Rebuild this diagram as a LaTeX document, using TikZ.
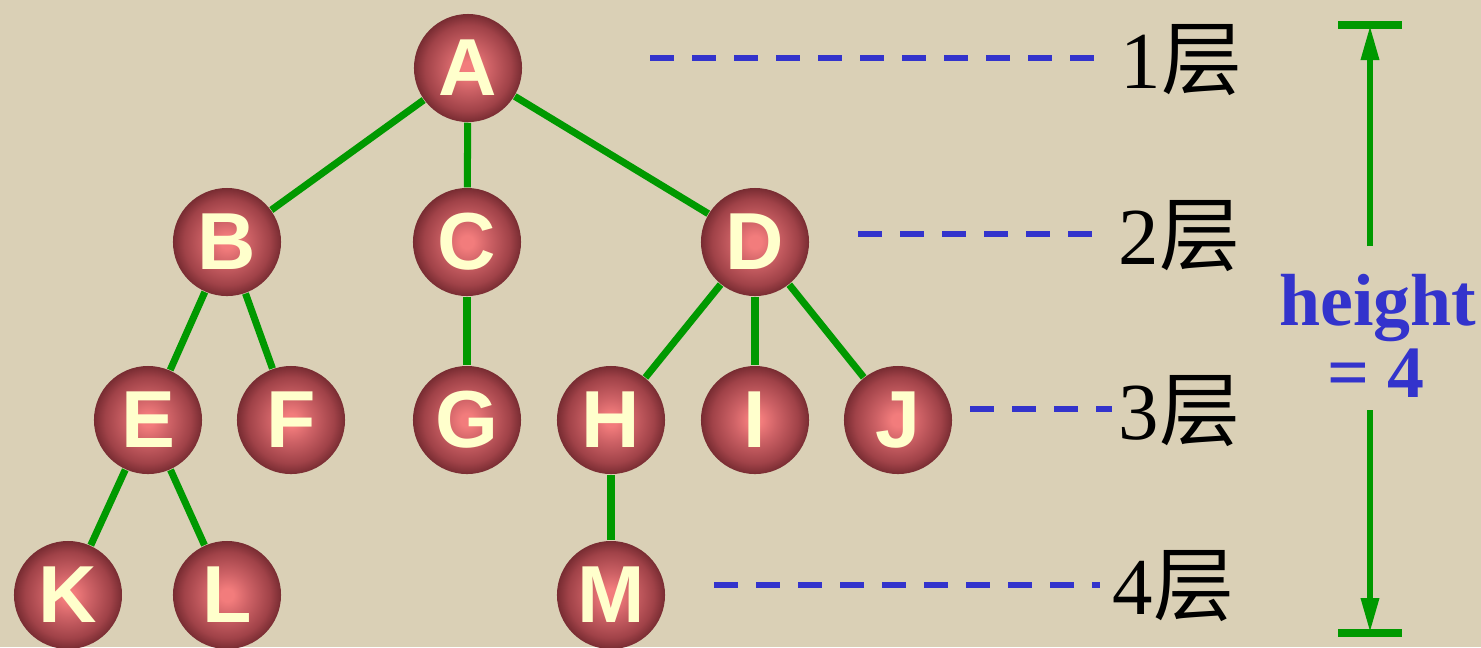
\documentclass[tikz,border=0pt]{standalone}
\usepackage{fontspec}
\setmainfont{Liberation Serif}
\newfontfamily\lsans{Liberation Sans}
\newfontfamily\cjk{Noto Sans CJK SC}
\usetikzlibrary{arrows.meta}
\definecolor{bg}{RGB}{218,208,182}
\definecolor{ballin}{RGB}{242,124,124}
\definecolor{ballin2}{RGB}{206,98,102}
\definecolor{ballmid}{RGB}{160,66,72}
\definecolor{ballout}{RGB}{120,44,50}
\definecolor{letter}{RGB}{255,255,204}
\definecolor{tgreen}{RGB}{0,153,0}
\definecolor{tblue}{RGB}{51,51,204}
\pgfdeclareradialshading{ballshade}{\pgfpoint{0bp}{0bp}}{color(0bp)=(ballin); color(3bp)=(ballin); color(10bp)=(ballin2); color(20bp)=(ballmid); color(25bp)=(ballout); color(50bp)=(ballout)}
\tikzset{
  ball/.style={circle, minimum size=1.08cm, inner sep=0pt, shading=ballshade,
    text=letter, font=\lsans\bfseries\fontsize{23}{23}\selectfont},
  edge/.style={draw=tgreen, line width=2pt},
  lvldash/.style={draw=tblue, line width=1.6pt, dash pattern=on 0.24cm off 0.18cm},
  lvl/.style={anchor=base west, inner sep=0pt, font=\fontsize{23}{23}\selectfont},
  htext/.style={anchor=base, inner sep=0pt, text=tblue, font=\bfseries\fontsize{21}{21}\selectfont},
  harrow/.style={draw=tgreen, line width=1.8pt, -{Triangle[length=0.35cm,width=0.17cm]}},
  hbar/.style={draw=tgreen, line width=2.3pt}
}
\begin{document}
\begin{tikzpicture}[x=0.01cm,y=-0.01cm]
\fill[bg] (0,0) rectangle (1481,647);
\useasboundingbox (0,0) rectangle (1481,647);
% nodes
\node[ball] (A) at (468,68) {A};
\node[ball] (B) at (227,242) {B};
\node[ball] (C) at (467,242) {C};
\node[ball] (D) at (755,242) {D};
\node[ball] (E) at (148,420) {E};
\node[ball] (F) at (291,420) {F};
\node[ball] (G) at (467,420) {G};
\node[ball] (H) at (611,420) {H};
\node[ball] (I) at (755,420) {I};
\node[ball] (J) at (898,420) {J};
\node[ball] (K) at (68,595) {K};
\node[ball] (L) at (227,595) {L};
\node[ball] (M) at (611,595) {M};
% edges
\draw[edge] (A) -- (B);
\draw[edge] (A) -- (C);
\draw[edge] (A) -- (D);
\draw[edge] (B) -- (E);
\draw[edge] (B) -- (F);
\draw[edge] (C) -- (G);
\draw[edge] (D) -- (H);
\draw[edge] (D) -- (I);
\draw[edge] (D) -- (J);
\draw[edge] (E) -- (K);
\draw[edge] (E) -- (L);
\draw[edge] (H) -- (M);
% level labels
\node[lvl] (l1) at (1120,88) {1{\cjk 层}};
\node[lvl] (l2) at (1118,264) {2{\cjk 层}};
\node[lvl] (l3) at (1118,439) {3{\cjk 层}};
\node[lvl] (l4) at (1112,614) {4{\cjk 层}};
\coordinate (d1s) at (650,58);  \coordinate (d1e) at (1095,58);
\coordinate (d2s) at (858,234); \coordinate (d2e) at (1095,234);
\coordinate (d3s) at (970,409); \coordinate (d3e) at (1112,409);
\coordinate (d4s) at (714,585); \coordinate (d4e) at (1100,585);
\draw[lvldash] (d1s) -- (d1e);
\draw[lvldash] (d2s) -- (d2e);
\draw[lvldash] (d3s) -- (d3e);
\draw[lvldash] (d4s) -- (d4e);
% height
\node[htext] (ht1) at (1378,325) {height};
\node[htext] (ht2) at (1376,397) {= 4};
\coordinate (top) at (1370,25);
\coordinate (bot) at (1370,633);
\coordinate (hs1) at (1370,246);
\coordinate (hs2) at (1370,410);
\coordinate (tl) at (1338,25); \coordinate (tr) at (1402,25);
\coordinate (bl) at (1338,633); \coordinate (br) at (1402,633);
\draw[harrow] (hs1) -- (top);
\draw[harrow] (hs2) -- (bot);
\draw[hbar] (tl) -- (tr);
\draw[hbar] (bl) -- (br);
\end{tikzpicture}
\end{document}
